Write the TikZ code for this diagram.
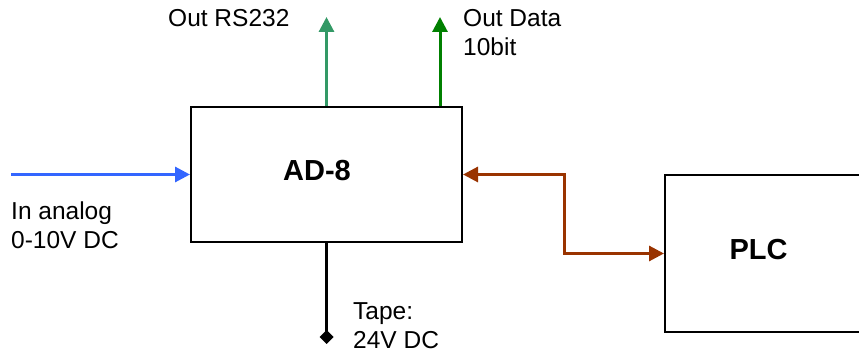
\documentclass[tikz,border=0pt]{standalone}
\usepackage{fontspec}
\setmainfont{Liberation Sans}
\usetikzlibrary{arrows.meta,positioning,calc}
\definecolor{verdeazul}{HTML}{339966}
\definecolor{verde}{HTML}{008000}
\definecolor{azul}{HTML}{3366FF}
\definecolor{marron}{HTML}{993300}

\begin{document}
\begin{tikzpicture}[x=1pt, y=-1pt,
  font=\fontsize{24.5}{29}\selectfont,
  bloque/.style={draw=black, line width=2pt, fill=white},
  rotulo/.style={font=\fontsize{29}{32}\selectfont\bfseries, inner sep=0pt},
  texto/.style={anchor=north west, align=left, inner sep=0pt},
  punta/.style={Triangle[length=15pt, width=15pt]},
  flecha/.style={-{Triangle[length=15pt, width=15pt]}, line width=3pt}]
\clip (0,0) rectangle (859,352);
\node[bloque, minimum width=271pt, minimum height=135pt] (ad) at (326.5,174.5) {};
\node[rotulo] (tad) at (317,171) {AD-8};
\node[bloque, minimum width=197pt, minimum height=157pt] (plc) at (763.5,253.5) {};
\node[rotulo] (tplc) at (758.5,250) {PLC};
\coordinate (rs) at (326.5,17);
\coordinate (dat) at (440,17);
\coordinate (in) at (11,174.5);
\coordinate (tape) at (326.5,344);
\draw[flecha, verdeazul] (ad.north) -- (rs);
\draw[flecha, verde] (ad.north -| dat) -- (dat);
\draw[flecha, azul] (in) -- (ad.west);
\draw[flecha, {Triangle[length=15pt, width=15pt]}-{Triangle[length=15pt, width=15pt]}, marron]
  (ad.east) -- ++(101.5,0) |- (plc.west);
\draw[line width=3pt, -{Diamond[length=14pt, width=14pt]}] (ad.south) -- (tape);
\node[texto] (trs) at (168,9) {Out RS232};
\node[texto] (tdat) at (463,9) {Out Data\\10bit};
\node[texto] (tin) at (11,202) {In analog\\0-10V DC};
\node[texto] (ttape) at (353,302) {Tape:\\24V DC};
\end{tikzpicture}
\end{document}
